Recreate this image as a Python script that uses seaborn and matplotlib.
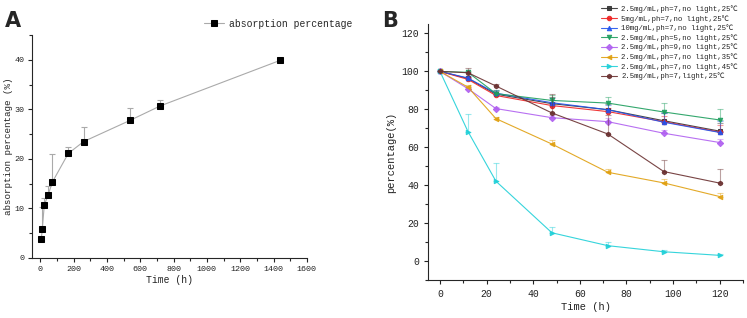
import numpy as np
import pandas as pd
import matplotlib
matplotlib.use("Agg")
import matplotlib.pyplot as plt
import seaborn as sns

# panel A data
time_a = [6, 12, 24, 48, 72, 168, 260, 540, 720, 1440]
absorb = [3.8, 5.9, 10.7, 12.8, 15.3, 21.1, 23.5, 27.8, 30.7, 39.9]
absorb_err = [0.0, 4.3, 1.5, 1.7, 5.6, 1.4, 3.0, 2.4, 1.2, 0.0]

# panel B data
time_b = [0, 12, 24, 48, 72, 96, 120]
labels_b = ["2.5mg/mL,ph=7,no light,25℃", "5mg/mL,ph=7,no light,25℃",
            "10mg/mL,ph=7,no light,25℃", "2.5mg/mL,ph=5,no light,25℃",
            "2.5mg/mL,ph=9,no light,25℃", "2.5mg/mL,ph=7,no light,35℃",
            "2.5mg/mL,ph=7,no light,45℃", "2.5mg/mL,ph=7,light,25℃"]
black = [100, 96.3, 88.0, 83.0, 79.8, 74.0, 68.5]
red = [100, 95.8, 87.3, 82.0, 78.8, 73.5, 68.0]
blue = [100, 96.5, 88.5, 83.5, 79.8, 73.2, 67.8]
green = [100, 99.5, 88.3, 84.7, 83.3, 78.6, 74.4]
purple = [100, 90.9, 80.4, 75.6, 73.5, 67.4, 62.5]
yellow = [100, 91.7, 75.1, 61.7, 46.8, 41.2, 34.0]
cyan = [100, 68.3, 42.1, 14.9, 8.1, 4.9, 3.0]
brown = [100, 99.3, 92.3, 78.1, 67.0, 47.2, 41.1]
black_err = [0, 1.0, 1.5, 3.5, 3.0, 4.0, 4.5]
red_err = [0, 1.0, 1.0, 2.0, 2.0, 3.0, 4.0]
blue_err = [0, 1.0, 1.5, 2.5, 2.5, 5.0, 6.0]
green_err = [0, 0.5, 2.0, 2.8, 3.2, 4.7, 6.0]
purple_err = [0, 1.0, 1.0, 1.5, 2.0, 1.5, 2.0]
yellow_err = [0, 1.0, 1.0, 2.0, 1.8, 1.8, 1.7]
cyan_err = [0, 9.4, 9.6, 3.0, 2.0, 1.0, 0.5]
brown_err = [0, 2.3, 1.0, 9.8, 10.0, 6.0, 7.7]

series_b = [black, red, blue, green, purple, yellow, cyan, brown]
errs_b = [black_err, red_err, blue_err, green_err, purple_err, yellow_err, cyan_err, brown_err]
colors_b = ["#333333", "#ee2222", "#2255ee", "#1e9e5e", "#b060f0", "#e0a010", "#20d0d8", "#6a3030"]
markers_b = ["s", "o", "^", "v", "D", "<", ">", "h"]

sns.set_style("ticks")
plt.rcParams["font.family"] = ["Liberation Mono", "Noto Sans CJK SC", "DejaVu Sans"]
plt.rcParams["xtick.direction"] = "out"
plt.rcParams["ytick.direction"] = "out"

fig = plt.figure(figsize=(7.47, 3.18), dpi=100)
ax1 = fig.add_axes([0.0428, 0.1887, 0.368, 0.701])
ax2 = fig.add_axes([0.5734, 0.1195, 0.4213, 0.805])

# ---- panel A
ax1.errorbar(time_a, absorb, yerr=[np.zeros(len(absorb_err)), absorb_err], fmt="none",
             ecolor="#aaaaaa", elinewidth=0.8, capsize=2, capthick=0.8)
sns.lineplot(x=time_a, y=absorb, ax=ax1, color="#aaaaaa", lw=0.8, marker="s", ms=5,
             mfc="black", mec="black", label="absorption percentage")
ax1.set_xlim(-50, 1600)
ax1.set_ylim(0, 45)
ax1.set_xticks(range(0, 1601, 200))
ax1.set_xticks(range(100, 1600, 200), minor=True)
ax1.set_yticks(range(0, 41, 10))
ax1.set_yticks(range(5, 46, 10), minor=True)
ax1.tick_params(labelsize=6, length=3, width=0.8, colors="#222222", pad=2.5)
ax1.tick_params(which="minor", length=2, width=0.8)
ax1.set_xlabel("Time (h)", fontsize=7, color="#222222", labelpad=2)
ax1.set_ylabel("absorption percentage (%)", fontsize=6.6, color="#222222", labelpad=1)
ax1.legend(loc="center left", bbox_to_anchor=(0.262, 0.925), bbox_transform=fig.transFigure,
           frameon=False, fontsize=7, handlelength=2.0, handletextpad=0.5)
sns.despine(ax=ax1)

# ---- panel B
for vals, err, c, m, lab in zip(series_b, errs_b, colors_b, markers_b, labels_b):
    ax2.errorbar(time_b, vals, yerr=[np.zeros(len(err)), err], fmt="none",
                 ecolor=c, alpha=0.45, elinewidth=0.8, capsize=2, capthick=0.8)
    sns.lineplot(x=time_b, y=vals, ax=ax2, color=c, lw=0.8, alpha=0.9, marker=m, ms=3.2,
                 mfc=c, mec=c, label=lab)
ax2.set_xlim(-5, 130)
ax2.set_ylim(-10, 125)
ax2.set_xticks(range(0, 121, 20))
ax2.set_xticks(range(10, 131, 20), minor=True)
ax2.set_yticks(range(0, 121, 20))
ax2.set_yticks(range(-10, 121, 20), minor=True)
ax2.tick_params(labelsize=7, length=3, width=0.8, colors="#222222")
ax2.tick_params(which="minor", length=2, width=0.8)
ax2.set_xlabel("Time (h)", fontsize=7.5, color="#222222", labelpad=2)
ax2.set_ylabel("percentage(%)", fontsize=7.5, color="#222222", labelpad=4)
ax2.legend(loc="upper right", bbox_to_anchor=(0.995, 1.0), bbox_transform=fig.transFigure,
           frameon=False, fontsize=5.3, handlelength=2.2, handletextpad=0.6,
           labelspacing=0.25, borderpad=0.2)
sns.despine(ax=ax2)

fig.text(0.006, 0.965, "A", fontsize=15, fontweight="bold", family="DejaVu Sans", va="top")
fig.text(0.512, 0.965, "B", fontsize=15, fontweight="bold", family="DejaVu Sans", va="top")

fig.savefig("out.png", dpi=100)
